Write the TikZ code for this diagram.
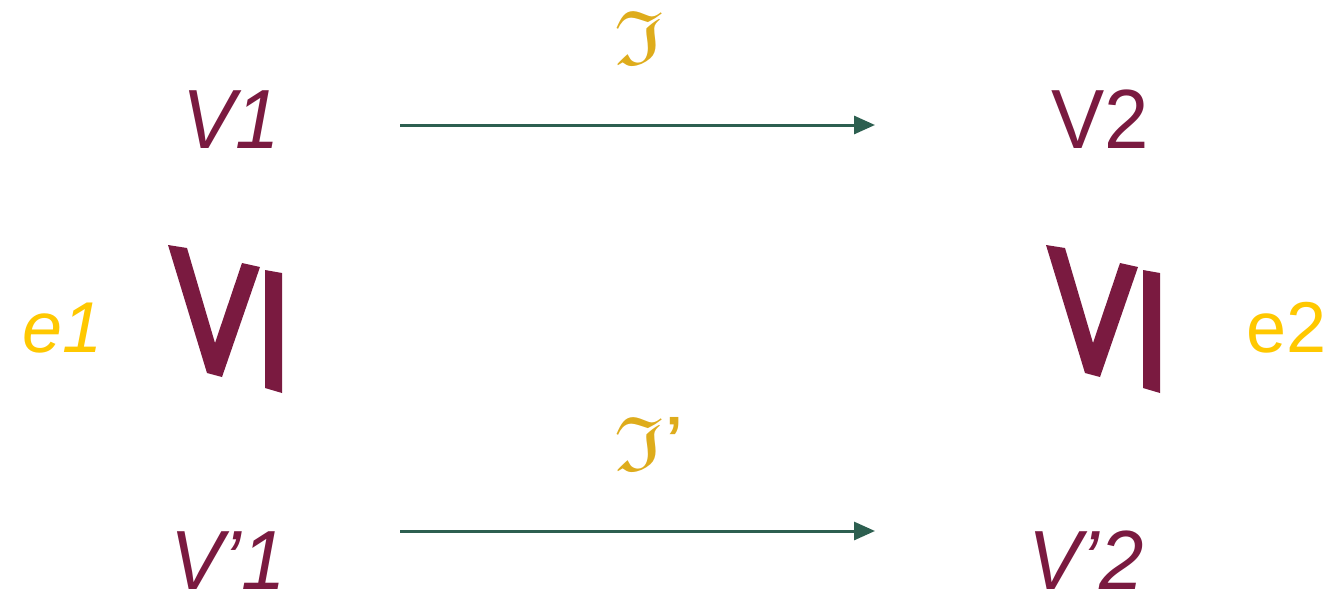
\documentclass[tikz,border=0pt]{standalone}
\usepackage{fontspec}
\setmainfont{Liberation Sans}
\usepackage{amssymb}
\usetikzlibrary{arrows.meta}
\definecolor{maroon}{RGB}{122,26,64}
\definecolor{egold}{RGB}{255,200,0}
\definecolor{fgold}{RGB}{222,172,28}
\definecolor{teal}{RGB}{45,95,80}
\begin{document}
\begin{tikzpicture}[x=1pt,y=-1pt,
  vlbl/.style={text=maroon,font=\fontsize{84}{84}\selectfont,inner sep=0,anchor=base west,xscale=0.95},
  ilbl/.style={vlbl,font=\fontsize{84}{84}\selectfont\itshape},
  elbl/.style={text=egold,font=\fontsize{72}{72}\selectfont,inner sep=0,anchor=base west},
  eilbl/.style={elbl,font=\fontsize{72}{72}\selectfont\itshape},
  frak/.style={text=fgold,font=\Huge,xscale=3.6,yscale=3.1,inner sep=0,anchor=base west},
  arr/.style={draw=teal,line width=3pt,-{Triangle[length=21pt,width=18pt]}},
  rel/.style={fill=maroon}]
\useasboundingbox (0,0) rectangle (1339,605);
% labels
\node[ilbl] (v1) at (182,148) {V1};
\node[vlbl] (v2) at (1051,148) {V2};
\node[ilbl] (v1p) at (170,589) {V’1};
\node[ilbl] (v2p) at (1028,589) {V’2};
\node[eilbl] (e1) at (22,352) {e1};
\node[elbl] (e2) at (1246,352) {e2};
\node[frak] (f1) at (614,64) {$\mathfrak{I}$};
\node[frak] (f2) at (614,470) {$\mathfrak{I}$\textquoteright};
% arrows
\coordinate (a1s) at (400,125);
\coordinate (a1e) at (875,125);
\coordinate (a2s) at (400,531);
\coordinate (a2e) at (875,531);
\draw[arr] (a1s) -- (a1e);
\draw[arr] (a2s) -- (a2e);
% rotated "less or equal" symbols
\foreach \dx in {0,878}{
  \begin{scope}[xshift=\dx]
    \fill[rel] (168,245) -- (187,248) -- (215,343) -- (242,263) -- (260,267) -- (222,377) -- (207,373) -- cycle;
    \fill[rel] (265,270) -- (282,273) -- (282,393) -- (265,388) -- cycle;
  \end{scope}
}
\end{tikzpicture}
\end{document}
